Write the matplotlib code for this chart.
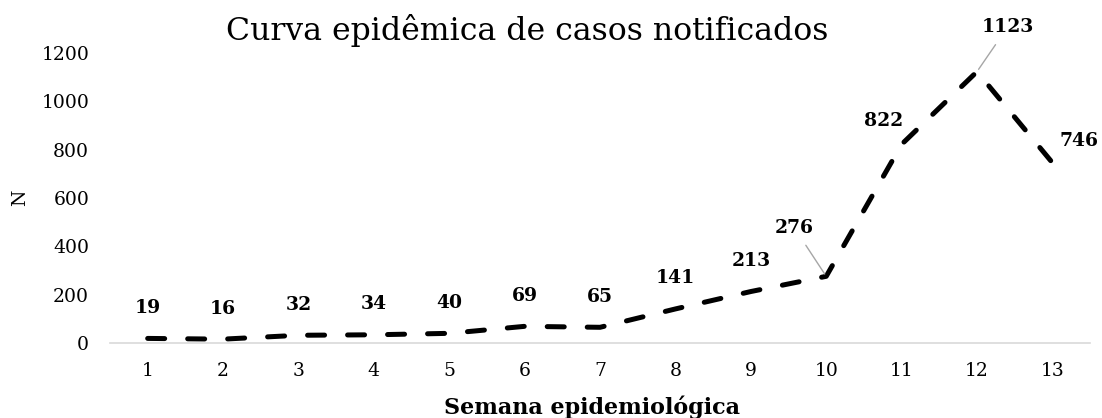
import matplotlib
matplotlib.use("Agg")
import matplotlib.pyplot as plt

# Casos notificados por semana epidemiológica
semanas = list(range(1, 14))
casos = [19, 16, 32, 34, 40, 69, 65, 141, 213, 276, 822, 1123, 746]

# deslocamento dos rótulos (pontos) relativo a cada ponto
label_dx = [0, 0, 0, 0, 0, 0, 0, 0, 0, -23, -13, 22, 19]
label_dy = [22, 22, 22, 22, 22, 22, 22, 22, 22, 35, 17, 32, 16]
leader = [False] * 9 + [True, False, True, False]

plt.rcParams["font.family"] = ["DejaVu Serif"]

fig = plt.figure(figsize=(11.02, 4.18), dpi=100)
ax = fig.add_axes([0.0998, 0.1794, 0.8894, 0.6938])

ax.plot(semanas, casos, color="black", lw=3.6,
        linestyle=(0, (3.4, 4.6)), dash_capstyle="round", solid_capstyle="round")

for x, y, dx, dy, ld in zip(semanas, casos, label_dx, label_dy, leader):
    props = None
    if ld:
        props = dict(arrowstyle="-", color="#a6a6a6", lw=1, shrinkA=5, shrinkB=2)
    ax.annotate(str(y), xy=(x, y), xytext=(dx, dy), textcoords="offset points",
                ha="center", va="center", fontsize=13.5, fontweight="bold",
                arrowprops=props)

ax.set_xlim(0.5, 13.5)
ax.set_ylim(0, 1200)
ax.set_xticks(semanas)
ax.set_yticks(range(0, 1201, 200))
ax.tick_params(axis="x", length=0, labelsize=13.5, pad=14)
ax.tick_params(axis="y", length=0, labelsize=13.5, pad=15)

for s in ["top", "right", "left"]:
    ax.spines[s].set_visible(False)
ax.spines["bottom"].set_color("#d9d9d9")
ax.spines["bottom"].set_linewidth(1.2)

ax.set_ylabel("N", fontsize=13.5, va="center")
ax.yaxis.set_label_coords(-0.092, 0.5)
ax.set_xlabel("Semana epidemiológica", fontsize=16, fontweight="bold", va="center")
ax.xaxis.set_label_coords(0.492, -0.221)

fig.text(0.478, 0.928, "Curva epidêmica de casos notificados",
         ha="center", va="center", fontsize=22.7)

fig.savefig("out.png", dpi=100)
